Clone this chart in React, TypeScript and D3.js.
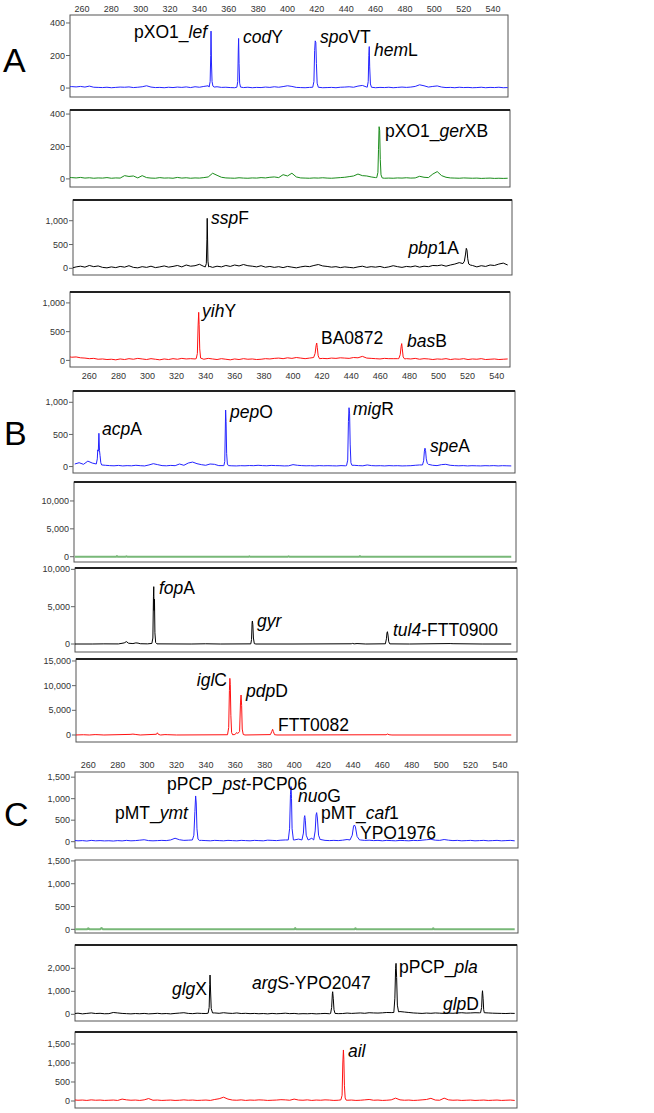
import React from 'react';
import * as d3 from 'd3';

type Pt = [number, number];

// baseline samples are read every 3 bp from 250 to 550
const baseStart = 250;
const baseStep = 3;
const sizeTicks = [260, 280, 300, 320, 340, 360, 380, 400, 420, 440, 460, 480, 500, 520, 540];

// ---- panel A ----
const A1_base = [8, 9, 7, 10, 6, 12, 5, 4, 3, 5, 2, 4, 6, 5, 7, 3, 5, 8, 14, 6, 3, 4, 2, 5, 3, 6, 4, 7, 3, 8, 5, 10, 14, 15, 8, 4, 5, 3, 2, 4, 3, 5, 2, 4, 3, 6, 4, 8, 5, 9, 14, 10, 4, 3, 2, 4, 3, 5, 2, 3, 4, 2, 5, 6, 8, 5, 12, 16, 6, 3, 2, 4, 3, 5, 2, 4, 6, 4, 6, 10, 20, 14, 6, 10, 13, 6, 3, 4, 2, 5, 3, 4, 2, 3, 5, 2, 4, 3, 5, 2, 3];
const A1_peaks: Pt[][] = [
  [[346.6, 6], [347.3, 40], [347.7, 200], [347.9, 350], [348.2, 160], [348.6, 40], [349.2, 12], [350, 6]],
  [[365.5, 5], [366.1, 40], [366.5, 240], [366.7, 305], [367, 150], [367.4, 30], [368, 6]],
  [[417.2, 5], [418, 40], [418.5, 230], [418.9, 290], [419.3, 280], [419.7, 150], [420.2, 30], [421, 5]],
  [[454.3, 5], [455, 40], [455.4, 200], [455.7, 255], [456, 130], [456.5, 25], [457.2, 5]],
];
const A2_base = [10, 8, 6, 9, 5, 7, 4, 6, 5, 8, 4, 6, 5, 20, 15, 18, 6, 20, 8, 5, 4, 8, 5, 6, 4, 9, 5, 7, 4, 6, 5, 8, 12, 35, 22, 10, 6, 5, 4, 7, 5, 4, 6, 5, 8, 6, 10, 12, 8, 26, 18, 35, 12, 6, 5, 4, 6, 5, 7, 5, 4, 6, 8, 10, 14, 18, 30, 20, 18, 12, 8, 6, 4, 5, 4, 6, 5, 7, 5, 6, 16, 10, 8, 30, 45, 20, 10, 6, 5, 4, 6, 5, 4, 5, 3, 4, 5, 3, 4, 3, 4];
const A2_peaks: Pt[][] = [
  [[460.8, 8], [461.6, 40], [462, 180], [462.4, 322], [462.8, 300], [463.2, 120], [463.7, 25], [464.5, 6]],
];
const A3_base = [20, 5, 30, 45, 25, 60, 35, 50, 20, 10, 30, 15, 40, 25, 55, 20, 10, 35, 20, 45, 15, 30, 50, 25, 40, 60, 30, 70, 45, 55, 85, 40, 40, 20, 45, 30, 60, 40, 70, 50, 80, 55, 45, 30, 55, 25, 40, 20, 35, 15, 40, 25, 10, 30, 45, 35, 60, 80, 50, 40, 25, 35, 15, 30, 20, 10, 30, 45, 20, 35, 25, 40, 15, 30, 55, 35, 20, 40, 30, 50, 25, 45, 35, 60, 55, 70, 45, 70, 90, 120, 100, 100, 60, 30, 55, 40, 70, 60, 90, 110, 70];
const A3_peaks: Pt[][] = [
  [[344, 30], [344.7, 100], [345.1, 600], [345.3, 1050], [345.5, 700], [345.8, 150], [346.3, 30], [347, 40]],
  [[519.5, 100], [520.5, 150], [521.3, 300], [521.8, 420], [522.3, 380], [522.8, 200], [523.5, 90], [524.5, 70]],
];
const A4_base = [70, 55, 60, 45, 40, 30, 35, 20, 25, 15, 20, 10, 25, 15, 30, 20, 35, 25, 15, 30, 20, 10, 25, 15, 30, 20, 35, 25, 30, 25, 25, 20, 35, 25, 15, 30, 20, 10, 25, 15, 30, 20, 25, 15, 20, 30, 25, 35, 40, 30, 45, 35, 50, 40, 30, 40, 30, 25, 35, 30, 40, 35, 45, 40, 35, 50, 45, 70, 40, 35, 30, 25, 35, 30, 30, 30, 20, 30, 25, 35, 20, 30, 25, 15, 25, 20, 30, 15, 25, 20, 30, 15, 25, 20, 30, 15, 20, 25, 15, 20, 25];
const A4_peaks: Pt[][] = [
  [[337.8, 30], [338.6, 120], [339.1, 600], [339.5, 836], [339.8, 620], [340.2, 200], [340.8, 40]],
  [[417.8, 50], [418.8, 120], [419.5, 260], [419.9, 302], [420.3, 220], [420.9, 80], [421.8, 30]],
  [[475.8, 30], [476.8, 100], [477.4, 240], [477.8, 292], [478.2, 200], [478.8, 60], [479.8, 25]],
];

// ---- panel B ----
const B1_base = [40, 60, 35, 85, 55, 60, 30, 20, 15, 12, 18, 10, 15, 12, 20, 14, 10, 25, 45, 30, 15, 12, 18, 14, 40, 20, 55, 70, 45, 30, 20, 40, 35, 15, 15, 15, 12, 10, 14, 12, 16, 14, 20, 15, 12, 18, 15, 14, 10, 12, 30, 20, 15, 12, 14, 10, 15, 12, 14, 12, 10, 15, 12, 12, 20, 15, 12, 25, 15, 12, 14, 10, 15, 12, 14, 10, 12, 14, 20, 25, 25, 30, 20, 15, 30, 35, 20, 15, 12, 15, 10, 14, 12, 10, 14, 12, 15, 10, 14, 12, 10];
const B1_peaks: Pt[][] = [
  [[264.8, 40], [265.5, 120], [265.8, 260], [266.2, 240], [266.6, 518], [267, 250], [267.4, 170], [267.9, 60], [268.5, 25]],
  [[352.5, 15], [353.1, 80], [353.5, 600], [353.7, 880], [354, 700], [354.4, 200], [354.9, 40], [355.6, 15]],
  [[436.8, 15], [437.6, 100], [438.1, 700], [438.5, 916], [438.9, 820], [439.3, 350], [439.8, 60], [440.5, 20]],
  [[489, 25], [489.8, 90], [490.3, 240], [490.7, 286], [491.1, 250], [491.6, 120], [492.3, 50], [493, 35]],
];
const B2_points: Pt[] = [[250, 0], [278.5, 0], [279, 100], [279.5, 0], [285, 0], [285.5, 80], [286, 0], [369.5, 0], [370, 90], [370.5, 0], [396.5, 0], [397, 70], [397.5, 0], [445.5, 0], [446, 100], [446.5, 0], [550, 0]];
const B3_points: Pt[] = [[250, 0], [262, 0], [270, 20], [280, 10], [284, 150], [285.5, 320], [287, 100], [290, 60], [292, 150], [293.5, 120], [295, 40], [300, 20], [303, 80], [303.7, 800], [304.1, 6400], [304.3, 7680], [304.5, 4500], [304.8, 6000], [305.1, 1500], [305.6, 200], [306.5, 20], [330, 0], [340, 30], [350, 0], [371, 20], [371.5, 600], [371.9, 2900], [372.1, 3083], [372.4, 2600], [372.8, 800], [373.4, 50], [374.5, 0], [400, 0], [440, 30], [441, 80], [442, 20], [444, 60], [450, 0], [463.5, 30], [464.2, 700], [464.6, 1500], [464.9, 1650], [465.3, 1200], [465.8, 300], [466.5, 20], [480, 0], [508, 60], [510, 40], [530, 0], [550, 0]];
const B4_points: Pt[] = [[250, 0], [256, 50], [260, 0], [264, 80], [266, 60], [270, 0], [288, 120], [290, 180], [292, 100], [295, 0], [306.2, 150], [306.8, 450], [307.5, 120], [309, 0], [312, 80], [314, 60], [320, 0], [355, 50], [355.8, 1500], [356.3, 9000], [356.6, 11480], [356.9, 10200], [357.3, 4000], [357.8, 500], [358.5, 50], [360, 100], [361.5, 500], [362, 300], [363.3, 700], [363.9, 6500], [364.3, 8100], [364.7, 6000], [365.1, 1200], [365.8, 100], [367, 0], [384.5, 80], [385.4, 700], [386, 1150], [386.5, 700], [387.3, 60], [389, 0], [464, 50], [465, 200], [466, 50], [468, 0], [550, 0]];

// ---- panel C ----
const C1_base = [30, 20, 25, 15, 30, 20, 25, 18, 22, 15, 25, 18, 30, 20, 25, 35, 45, 25, 20, 25, 30, 25, 40, 80, 45, 30, 35, 35, 35, 30, 25, 20, 30, 25, 20, 30, 25, 20, 30, 25, 20, 30, 25, 20, 35, 30, 25, 35, 40, 40, 40, 60, 60, 60, 80, 80, 50, 30, 25, 30, 25, 35, 50, 50, 50, 40, 30, 35, 25, 30, 20, 30, 25, 20, 30, 25, 20, 30, 25, 35, 45, 55, 35, 30, 50, 35, 25, 30, 20, 25, 30, 20, 25, 30, 20, 25, 30, 20, 25, 30, 20];
const C1_peaks: Pt[][] = [
  [[330.8, 40], [331.8, 150], [332.5, 700], [333, 1063], [333.4, 900], [333.9, 300], [334.6, 60], [335.5, 30]],
  [[396, 40], [396.9, 300], [397.5, 1100], [397.9, 1279], [398.2, 1000], [398.6, 300], [399.5, 40]],
  [[405.3, 40], [406.3, 200], [406.9, 560], [407.2, 605], [407.6, 500], [408.2, 150], [409.5, 40]],
  [[413.3, 40], [414.3, 250], [414.9, 620], [415.3, 675], [415.8, 550], [416.6, 150], [417.8, 40]],
  [[438, 40], [439.5, 150], [440.4, 360], [441, 388], [441.7, 340], [442.8, 120], [444.5, 40]],
];
const C2_points: Pt[] = [[250, 0], [259, 0], [260, 25], [261, 0], [268, 0], [269, 30], [270, 0], [400, 0], [400.7, 30], [401.4, 0], [441, 0], [441.7, 25], [442.4, 0], [450, 0], [494, 0], [494.6, 25], [495.2, 0], [550, 0]];
const C3_base = [30, 50, 20, 40, 60, 35, 45, 25, 30, 80, 60, 40, 30, 20, 35, 25, 40, 20, 30, 45, 25, 35, 20, 40, 55, 70, 40, 30, 50, 40, 35, 35, 60, 45, 70, 50, 40, 60, 35, 45, 30, 40, 25, 35, 20, 40, 25, 35, 50, 30, 40, 20, 30, 25, 35, 20, 30, 40, 25, 25, 30, 35, 55, 40, 50, 60, 45, 70, 60, 55, 65, 80, 75, 75, 120, 100, 80, 60, 50, 40, 55, 45, 60, 50, 40, 55, 45, 60, 70, 55, 60, 70, 65, 65, 60, 50, 45, 40, 35, 45, 40];
const C3_peaks: Pt[][] = [
  [[341.5, 50], [342.2, 300], [342.6, 1300], [342.8, 1709], [343.1, 1100], [343.6, 250], [344.5, 60]],
  [[424.8, 40], [425.5, 300], [426, 900], [426.2, 983], [426.6, 700], [427.1, 200], [427.8, 40]],
  [[467.8, 80], [468.5, 700], [469, 2000], [469.3, 2217], [469.7, 1600], [470.2, 400], [471, 110]],
  [[526.8, 70], [527.5, 300], [527.9, 900], [528.1, 1026], [528.5, 700], [528.9, 200], [529.3, 70]],
];
const C4_base = [30, 20, 25, 15, 30, 20, 25, 15, 20, 25, 15, 50, 30, 20, 25, 15, 30, 65, 20, 25, 15, 20, 25, 15, 20, 30, 20, 25, 15, 20, 25, 15, 40, 60, 100, 50, 25, 20, 30, 15, 25, 20, 30, 25, 15, 20, 25, 35, 30, 20, 50, 25, 20, 30, 15, 25, 20, 30, 25, 15, 20, 25, 20, 25, 15, 20, 30, 40, 20, 25, 15, 20, 30, 75, 30, 20, 25, 15, 20, 30, 40, 70, 25, 20, 75, 30, 20, 25, 15, 20, 25, 15, 20, 25, 15, 20, 25, 15, 20, 25, 15];
const C4_peaks: Pt[][] = [
  [[431.8, 30], [432.6, 150], [433.1, 1000], [433.5, 1342], [433.8, 1100], [434.2, 400], [434.7, 80], [435.3, 25]],
];

// gene labels, *...* marks the italic part
const A1_labels = ['pXO1_*lef*', '*cod*Y', '*spo*VT', '*hem*L'];
const A2_labels = ['pXO1_*ger*XB'];
const A3_labels = ['*ssp*F', '*pbp*1A'];
const A4_labels = ['*yih*Y', 'BA0872', '*bas*B'];
const B1_labels = ['*acp*A', '*pep*O', '*mig*R', '*spe*A'];
const B3_labels = ['*fop*A', '*gyr*', '*tul4*-FTT0900'];
const B4_labels = ['*igl*C', '*pdp*D', 'FTT0082'];
const C1_labels = ['pMT_*ymt*', 'pPCP_*pst*-PCP06', '*nuo*G', 'pMT_*caf*1', 'YPO1976'];
const C3_labels = ['*glg*X', '*arg*S-YPO2047', 'pPCP_*pla*', '*glp*D'];
const C4_labels = ['*ail*'];

function buildTrace(base: number[] | null, peaks: Pt[][]): Pt[] {
  let pts: Pt[] = base ? base.map((v, i) => [baseStart + i * baseStep, v] as Pt) : [];
  peaks.forEach(pk => {
    const lo = pk[0][0];
    const hi = pk[pk.length - 1][0];
    pts = pts.filter(p => p[0] < lo || p[0] > hi);
  });
  peaks.forEach(pk => pts.push(...pk));
  return pts.sort((a, b) => a[0] - b[0]);
}

const BLUE = '#2424ff';
const GREEN = '#1a8c1a';
const PALE = '#78b878';
const BLACK = '#000';
const RED = '#ff1010';

// layout (pixels) for each sub-plot
const panels = [
  {
    letter: 'A', lx: 3, ly: 72, axisY: 12, x260: 82, x540: 493,
    plots: [
      { x0: 70, x1: 508, y0: 15, y1: 97, dom: [-55, 449], ticks: [0, 200, 400], color: BLUE, w: 1, thick: false,
        pts: buildTrace(A1_base, A1_peaks), labels: A1_labels,
        lpos: [[207, 38, 'end'], [243, 43, 'start'], [320, 43, 'start'], [374, 56, 'start']] },
      { x0: 70, x1: 510, y0: 110, y1: 187, dom: [-50, 425], ticks: [0, 200, 400], color: GREEN, w: 1, thick: true,
        pts: buildTrace(A2_base, A2_peaks), labels: A2_labels, lpos: [[385, 137, 'start']] },
      { x0: 73, x1: 512, y0: 200, y1: 275, dom: [-140, 1435], ticks: [0, 500, 1000], color: BLACK, w: 1, thick: true,
        pts: buildTrace(A3_base, A3_peaks), labels: A3_labels, lpos: [[211, 224, 'start'], [459, 254, 'end']] },
      { x0: 70, x1: 510, y0: 292, y1: 367, dom: [-115, 1190], ticks: [0, 500, 1000], color: RED, w: 1, thick: true,
        pts: buildTrace(A4_base, A4_peaks), labels: A4_labels,
        lpos: [[202, 317, 'start'], [321, 344, 'start'], [407, 347, 'start']] },
    ],
  },
  {
    letter: 'B', lx: 4, ly: 445, axisY: 379, x260: 89.3, x540: 496.7,
    plots: [
      { x0: 73, x1: 515, y0: 391, y1: 473, dom: [-100, 1176], ticks: [0, 500, 1000], color: BLUE, w: 1, thick: true,
        pts: buildTrace(B1_base, B1_peaks), labels: B1_labels,
        lpos: [[102, 435, 'start'], [230, 418, 'start'], [353, 415, 'start'], [430, 452, 'start']] },
      { x0: 74, x1: 516, y0: 482, y1: 562, dom: [-950, 13400], ticks: [0, 5000, 10000], color: PALE, w: 2, thick: true,
        pts: buildTrace(null, [B2_points]), labels: [], lpos: [] },
      { x0: 75, x1: 517, y0: 568, y1: 652, dom: [-1070, 10180], ticks: [0, 5000, 10000], color: BLACK, w: 1, thick: true,
        pts: buildTrace(null, [B3_points]), labels: B3_labels,
        lpos: [[159, 594, 'start'], [257, 627, 'start'], [393, 636, 'start']] },
      { x0: 76, x1: 517, y0: 659, y1: 742, dom: [-1420, 15400], ticks: [0, 5000, 10000, 15000], color: RED, w: 1, thick: true,
        pts: buildTrace(null, [B4_points]), labels: B4_labels,
        lpos: [[227, 686, 'end'], [246, 697, 'start'], [278, 731, 'start']] },
    ],
  },
  {
    letter: 'C', lx: 4, ly: 826, axisY: 768, x260: 88.3, x540: 500,
    plots: [
      { x0: 75, x1: 518, y0: 772, y1: 848, dom: [-147, 1620], ticks: [0, 500, 1000, 1500], color: BLUE, w: 1, thick: false,
        pts: buildTrace(C1_base, C1_peaks), labels: C1_labels,
        lpos: [[188, 819, 'end'], [167, 790, 'start'], [298, 802, 'start'], [321, 819, 'start'], [360, 839, 'start']] },
      { x0: 75, x1: 518, y0: 860, y1: 933, dom: [-80, 1520], ticks: [0, 500, 1000, 1500], color: PALE, w: 2, thick: false,
        pts: buildTrace(null, [C2_points]), labels: [], lpos: [] },
      { x0: 75, x1: 517, y0: 945, y1: 1021, dom: [-290, 3015], ticks: [0, 1000, 2000], color: BLACK, w: 1, thick: true,
        pts: buildTrace(C3_base, C3_peaks), labels: C3_labels,
        lpos: [[207, 995, 'end'], [252, 989, 'start'], [399, 973, 'start'], [479, 1010, 'end']] },
      { x0: 75, x1: 517, y0: 1032, y1: 1108, dom: [-184, 1815], ticks: [0, 500, 1000, 1500], color: RED, w: 1, thick: true,
        pts: buildTrace(C4_base, C4_peaks), labels: C4_labels, lpos: [[348, 1057, 'start']] },
    ],
  },
];

const fmt = d3.format(',');
const tickFont = '"Liberation Sans Narrow", "Arial Narrow", "Liberation Sans", Arial, sans-serif';
const labelFont = '"Liberation Sans", Arial, sans-serif';

function GeneLabel({ text, x, y, anchor }: { text: string; x: number; y: number; anchor: string }) {
  const parts = text.split('*');
  return (
    <text x={x} y={y} textAnchor={anchor} fontFamily={labelFont} fontSize={17.5} fill="#000">
      {parts.map((p, i) => p ? <tspan key={i} fontStyle={i % 2 ? 'italic' : 'normal'}>{p}</tspan> : null)}
    </text>
  );
}

export default function App() {
  return (
    <svg width={654} height={1113} style={{ position: 'absolute', left: 0, top: 0, background: '#fff' }}>
      <defs>
        {panels.map((pn, pi) => pn.plots.map((pl, j) => (
          <clipPath id={`clip-${pi}-${j}`} key={`${pi}-${j}`}>
            <rect x={pl.x0} y={pl.y0} width={pl.x1 - pl.x0} height={pl.y1 - pl.y0} />
          </clipPath>
        )))}
      </defs>
      {panels.map((pn, pi) => {
        const x = d3.scaleLinear().domain([260, 540]).range([pn.x260, pn.x540]);
        return (
          <g key={pn.letter}>
            <text x={pn.lx} y={pn.ly} fontFamily={labelFont} fontSize={34} fill="#000">{pn.letter}</text>
            {sizeTicks.map(t => (
              <text key={t} x={x(t)} y={pn.axisY} textAnchor="middle" fontFamily={tickFont} fontSize={9} fill="#333">{t}</text>
            ))}
            {pn.plots.map((pl, j) => {
              const y = d3.scaleLinear().domain(pl.dom).range([pl.y1, pl.y0]);
              const line = d3.line<Pt>().x(d => x(d[0])).y(d => y(d[1]));
              return (
                <g key={j}>
                  <rect x={pl.x0} y={pl.y0} width={pl.x1 - pl.x0} height={pl.y1 - pl.y0} fill="#fff" stroke="#555" strokeWidth={1} />
                  {pl.thick && (
                    <line x1={pl.x0} x2={pl.x1} y1={pl.y0} y2={pl.y0} stroke="#222" strokeWidth={2.2} />
                  )}
                  {pl.ticks.map(t => (
                    <g key={t}>
                      <line x1={pl.x0 - 4} x2={pl.x0} y1={y(t)} y2={y(t)} stroke="#666" strokeWidth={1} />
                      <text x={pl.x0 - 5} y={y(t)} dy="0.35em" textAnchor="end" fontFamily={tickFont} fontSize={9} fill="#333">{fmt(t)}</text>
                    </g>
                  ))}
                  <path d={line(pl.pts) || ''} fill="none" stroke={pl.color} strokeWidth={pl.w} strokeLinejoin="round" clipPath={`url(#clip-${pi}-${j})`} />
                  {pl.labels.map((lb, k) => (
                    <GeneLabel key={k} text={lb} x={pl.lpos[k][0] as number} y={pl.lpos[k][1] as number} anchor={pl.lpos[k][2] as string} />
                  ))}
                </g>
              );
            })}
          </g>
        );
      })}
    </svg>
  );
}
